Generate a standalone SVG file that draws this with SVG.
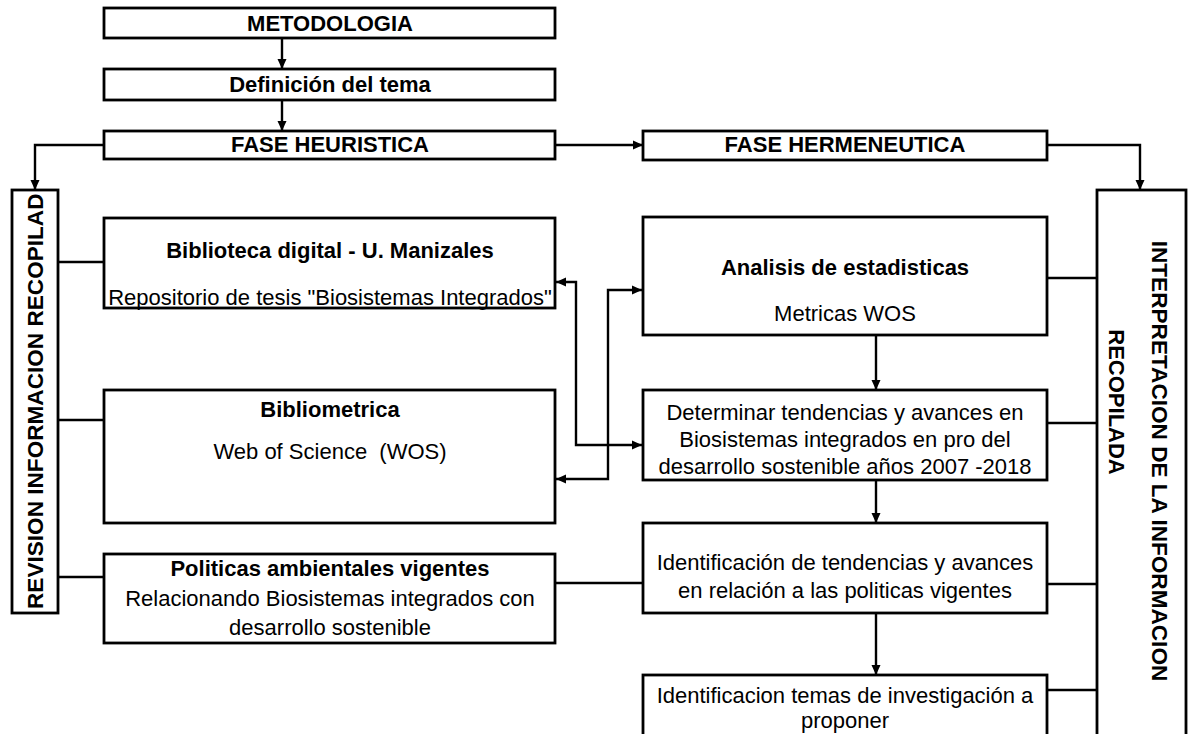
<svg xmlns="http://www.w3.org/2000/svg" width="1191" height="734" viewBox="0 0 1191 734">
<defs>
<marker id="ah" viewBox="0 0 10 10" refX="10" refY="5" markerWidth="10" markerHeight="10" markerUnits="userSpaceOnUse" orient="auto-start-reverse">
<path d="M0,0.5 L10,5 L0,9.5 Z" fill="#000"/>
</marker>
<clipPath id="clipL" clipPathUnits="userSpaceOnUse"><rect x="12" y="190" width="46" height="423"/></clipPath>
</defs>
<style>
.box{fill:#fff;stroke:#000;stroke-width:2.8}
.t{font-family:"Liberation Sans",Arial,sans-serif;font-size:22px;fill:#000;text-anchor:middle}
.b{font-weight:bold}
.c{fill:none;stroke:#000;stroke-width:2.4}
.a{marker-end:url(#ah)}
.aa{marker-start:url(#ah);marker-end:url(#ah)}
</style>
<rect width="1191" height="734" fill="#fff"/>

<g id="connectors">
<path class="c a" d="M282 38 V69"/>
<path class="c a" d="M282 100 V131"/>
<path class="c a" d="M104 145 H35 V190"/>
<path class="c a" d="M556 145 H643"/>
<path class="c a" d="M1047 145 H1140 V190"/>
<path class="c" d="M58 262 H104"/>
<path class="c" d="M58 420 H104"/>
<path class="c" d="M58 577 H104"/>
<path class="c" d="M555 583 H643"/>
<path class="c" d="M1047 278 H1097"/>
<path class="c" d="M1047 423 H1097"/>
<path class="c" d="M1047 584 H1097"/>
<path class="c" d="M1047 690 H1097"/>
<path class="c a" d="M876 335 V390"/>
<path class="c a" d="M876 480 V523"/>
<path class="c a" d="M876 613 V675"/>
<path class="c aa" d="M556 282 H576 V445 H642"/>
<path class="c aa" d="M642 290 H608 V479 H556"/>
</g>

<g id="metodologia">
<rect class="box" x="104" y="8" width="451" height="30"/>
<text class="t b" x="330" y="31">METODOLOGIA</text>
</g>
<g id="definicion">
<rect class="box" x="104" y="69" width="451" height="31"/>
<text class="t b" x="330" y="92">Definición del tema</text>
</g>
<g id="fase-heuristica">
<rect class="box" x="104" y="131" width="451" height="28"/>
<text class="t b" x="330" y="152">FASE HEURISTICA</text>
</g>
<g id="fase-hermeneutica">
<rect class="box" x="643" y="131" width="404" height="29"/>
<text class="t b" x="845" y="152">FASE HERMENEUTICA</text>
</g>

<g id="revision">
<rect class="box" x="12" y="190" width="46" height="423"/>
<g clip-path="url(#clipL)">
<text class="t b" transform="translate(43,609) rotate(-90)" x="0" y="0" style="text-anchor:start;font-size:22.6px">REVISION INFORMACION RECOPILAD</text>
</g>
</g>

<g id="interpretacion">
<rect class="box" x="1097" y="190" width="89" height="560"/>
<text class="t b" transform="translate(1152,461) rotate(90)" x="0" y="0" style="font-size:22.6px">INTERPRETACION DE LA INFORMACION</text>
<text class="t b" transform="translate(1109,402) rotate(90)" x="0" y="0">RECOPILADA</text>
</g>

<g id="biblioteca">
<rect class="box" x="104" y="218" width="451" height="90"/>
<text class="t b" x="330" y="258">Biblioteca digital - U. Manizales</text>
<text class="t" x="330" y="305">Repositorio de tesis "Biosistemas Integrados"</text>
</g>

<g id="bibliometrica">
<rect class="box" x="104" y="390" width="451" height="133"/>
<text class="t b" x="330" y="417">Bibliometrica</text>
<text class="t" x="330" y="459" xml:space="preserve">Web of Science  (WOS)</text>
</g>

<g id="politicas">
<rect class="box" x="104" y="554" width="451" height="89"/>
<text class="t b" x="330" y="576">Politicas ambientales vigentes</text>
<text class="t" x="330" y="606">Relacionando Biosistemas integrados con</text>
<text class="t" x="330" y="635">desarrollo sostenible</text>
</g>

<g id="analisis">
<rect class="box" x="643" y="217" width="404" height="118"/>
<text class="t b" x="845" y="275">Analisis de estadisticas</text>
<text class="t" x="845" y="321">Metricas WOS</text>
</g>

<g id="determinar">
<rect class="box" x="643" y="390" width="404" height="90"/>
<text class="t" x="845" y="420">Determinar tendencias y avances en</text>
<text class="t" x="845" y="447">Biosistemas integrados en pro del</text>
<text class="t" x="845" y="474">desarrollo sostenible años 2007 -2018</text>
</g>

<g id="identificacion">
<rect class="box" x="643" y="523" width="404" height="90"/>
<text class="t" x="845" y="570">Identificación de tendencias y avances</text>
<text class="t" x="845" y="598">en relación a las politicas vigentes</text>
</g>

<g id="temas">
<rect class="box" x="643" y="675" width="404" height="75"/>
<text class="t" x="845" y="703">Identificacion temas de investigación a</text>
<text class="t" x="845" y="728">proponer</text>
</g>
</svg>
